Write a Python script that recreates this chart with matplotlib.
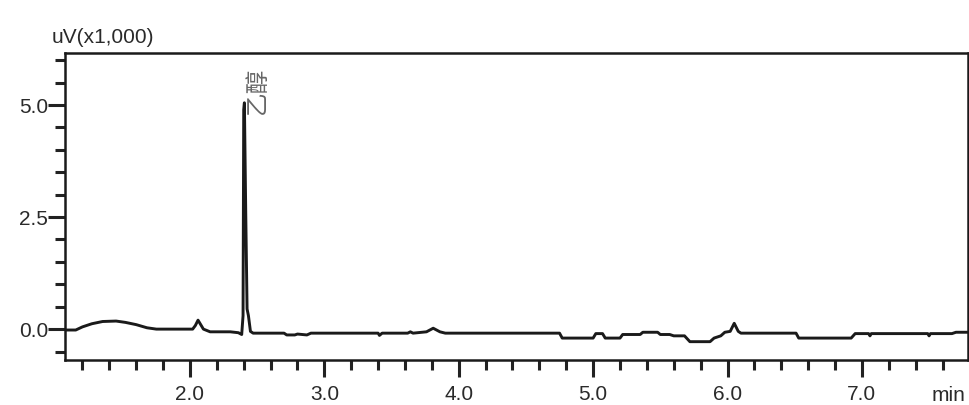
import matplotlib.pyplot as plt
from matplotlib.ticker import MultipleLocator

plt.rcParams['font.family'] = ['Liberation Sans', 'Noto Sans CJK SC', 'DejaVu Sans']

# chromatogram trace (min, uV x1000)
time_min = [1.07, 1.15, 1.20, 1.27, 1.35, 1.45, 1.52, 1.60, 1.68, 1.75, 2.02, 2.04,
            2.06, 2.08, 2.10, 2.15, 2.30, 2.36, 2.385, 2.395, 2.40, 2.405, 2.415,
            2.425, 2.435, 2.45, 2.47, 2.70, 2.72, 2.78, 2.80, 2.87, 2.90, 3.40,
            3.41, 3.43, 3.62, 3.64, 3.66, 3.76, 3.81, 3.86, 3.90, 4.75, 4.77, 5.00,
            5.02, 5.07, 5.09, 5.20, 5.22, 5.35, 5.37, 5.48, 5.50, 5.57, 5.60, 5.68,
            5.72, 5.87, 5.90, 5.95, 5.98, 6.02, 6.05, 6.08, 6.10, 6.51, 6.53, 6.92,
            6.95, 7.05, 7.06, 7.07, 7.49, 7.50, 7.51, 7.67, 7.70, 7.79]
signal = [-0.02, -0.02, 0.05, 0.12, 0.17, 0.18, 0.15, 0.10, 0.03, 0.00, 0.00, 0.08,
          0.20, 0.10, 0.00, -0.06, -0.06, -0.08, -0.12, 0.30, 4.90, 5.05, 2.60,
          0.45, 0.30, -0.05, -0.09, -0.09, -0.13, -0.13, -0.11, -0.13, -0.09, -0.09,
          -0.14, -0.09, -0.09, -0.06, -0.09, -0.06, 0.02, -0.06, -0.09, -0.09, -0.20,
          -0.20, -0.10, -0.10, -0.20, -0.20, -0.12, -0.12, -0.07, -0.07, -0.12, -0.12,
          -0.15, -0.15, -0.28, -0.28, -0.20, -0.15, -0.07, -0.05, 0.13, -0.05, -0.09,
          -0.09, -0.20, -0.20, -0.10, -0.10, -0.15, -0.10, -0.10, -0.15, -0.10,
          -0.10, -0.07, -0.07]

peak_time = 2.5
peak_label = '乙醇'

fig = plt.figure(figsize=(9.7, 4.05), dpi=100)
ax = fig.add_axes([0.067, 0.111, 0.931, 0.758])

ax.plot(time_min, signal, color='#1a1a1a', lw=2.1)

ax.set_xlim(1.07, 7.79)
ax.set_ylim(-0.69, 6.16)
ax.xaxis.set_major_locator(MultipleLocator(1.0))
ax.xaxis.set_minor_locator(MultipleLocator(0.2))
ax.yaxis.set_major_locator(MultipleLocator(2.5))
ax.yaxis.set_minor_locator(MultipleLocator(0.5))
ax.xaxis.set_major_formatter(lambda v, p: f'{v:.1f}')
ax.yaxis.set_major_formatter(lambda v, p: f'{v:.1f}')

ax.tick_params(which='major', length=12, width=2.2, labelsize=15, color='#222222',
               labelcolor='#2a2a2a')
ax.tick_params(which='minor', length=7, width=2.2, color='#222222')
ax.tick_params(axis='x', pad=6)
ax.tick_params(axis='y', pad=0)
for s in ax.spines.values():
    s.set_linewidth(1.8)
    s.set_color('#1a1a1a')

ax.text(peak_time, 4.8, peak_label, rotation=90, ha='center', va='bottom',
        fontsize=17, color='#666666', family=['Noto Sans CJK SC'], clip_on=False)

fig.text(0.053, 0.885, 'uV(x1,000)', fontsize=15, color='#2a2a2a', ha='left', va='bottom')
fig.text(0.96, 0.0, 'min', fontsize=15, color='#2a2a2a', ha='left', va='bottom')

fig.savefig('out.png', dpi=100)
